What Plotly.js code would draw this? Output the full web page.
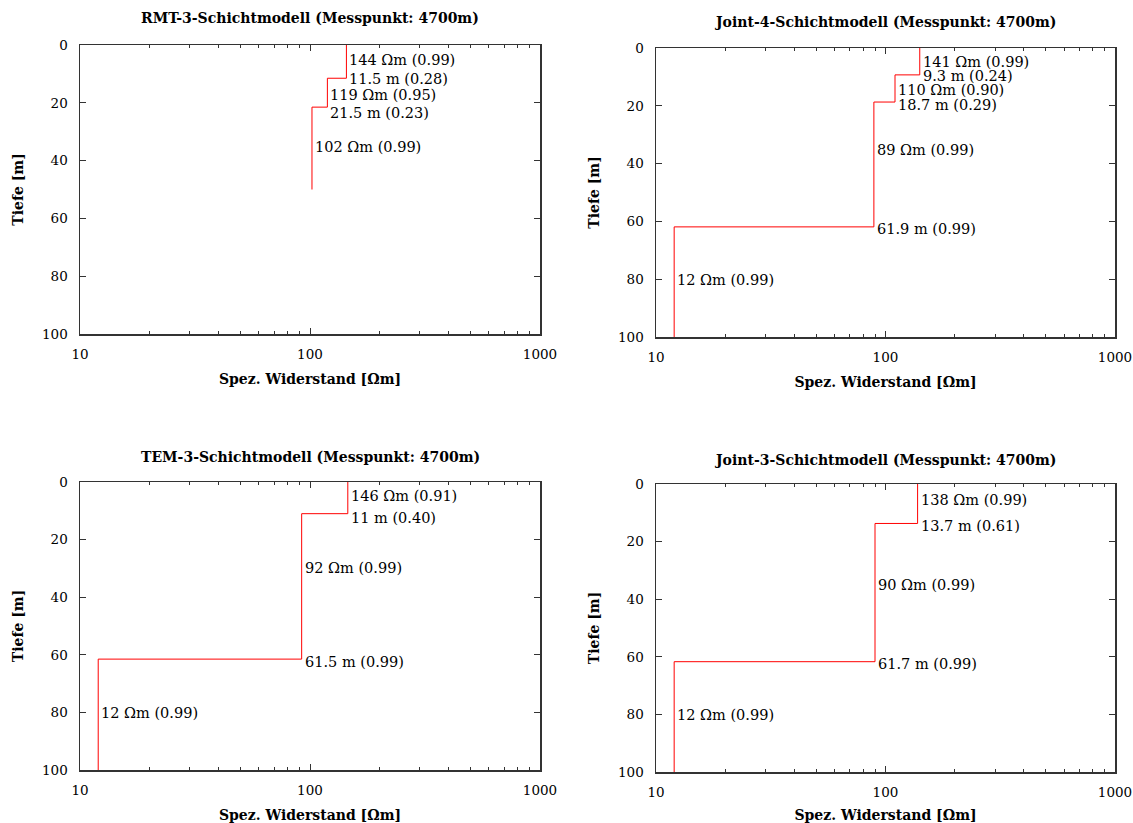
<!DOCTYPE html>
<html>
<head>
<meta charset="utf-8">
<script src="https://cdn.plot.ly/plotly-3.0.1.min.js"></script>
<style>html,body{margin:0;padding:0;background:#fff;}#chart{width:1133px;height:823px;}</style>
</head>
<body>
<div id="chart"></div>
<script>
// ---- data ----
const titles = [
  "RMT-3-Schichtmodell (Messpunkt: 4700m)",
  "Joint-4-Schichtmodell (Messpunkt: 4700m)",
  "TEM-3-Schichtmodell (Messpunkt: 4700m)",
  "Joint-3-Schichtmodell (Messpunkt: 4700m)"
];
// layer resistivities [Ωm]
const rmtRho = [144, 119, 102];
const joint4Rho = [141, 110, 89, 12];
const temRho = [146, 92, 12];
const joint3Rho = [138, 90, 12];
// layer resistivity confidence
const rmtRhoConf = ["0.99", "0.95", "0.99"];
const joint4RhoConf = ["0.99", "0.90", "0.99", "0.99"];
const temRhoConf = ["0.91", "0.99", "0.99"];
const joint3RhoConf = ["0.99", "0.99", "0.99"];
// layer boundary depths [m]
const rmtDepth = [11.5, 21.5];
const joint4Depth = [9.3, 18.7, 61.9];
const temDepth = [11, 61.5];
const joint3Depth = [13.7, 61.7];
// boundary confidence
const rmtDepthConf = ["0.28", "0.23"];
const joint4DepthConf = ["0.24", "0.29", "0.99"];
const temDepthConf = ["0.40", "0.99"];
const joint3DepthConf = ["0.61", "0.99"];
// depth where the profile ends [m]
const rmtBottom = 50;
const joint4Bottom = 100;
const temBottom = 100;
const joint3Bottom = 100;
// depths at which the layer labels are written [m]
const rmtRhoLabelDepth = [5.2, 17.3, 35.3];
const joint4RhoLabelDepth = [4.8, 14.7, 35.3, 80.3];
const temRhoLabelDepth = [4.9, 29.9, 80.2];
const joint3RhoLabelDepth = [5.6, 35.1, 80.2];
// depths at which the boundary labels are written [m]
const rmtDepthLabelDepth = [11.8, 23.5];
const joint4DepthLabelDepth = [9.8, 19.6, 62.6];
const temDepthLabelDepth = [12.5, 62.5];
const joint3DepthLabelDepth = [14.6, 62.5];
// axis ticks
const xTickVals = [10, 100, 1000];
const xTickText = ["10", "100", "1000"];
const xMinorVals = [20,30,40,50,60,70,80,90,200,300,400,500,600,700,800,900];
const yTickVals = [0, 20, 40, 60, 80, 100];

const panels = [
  {rho: rmtRho, rc: rmtRhoConf, d: rmtDepth, dc: rmtDepthConf, bottom: rmtBottom, rl: rmtRhoLabelDepth, dl: rmtDepthLabelDepth},
  {rho: joint4Rho, rc: joint4RhoConf, d: joint4Depth, dc: joint4DepthConf, bottom: joint4Bottom, rl: joint4RhoLabelDepth, dl: joint4DepthLabelDepth},
  {rho: temRho, rc: temRhoConf, d: temDepth, dc: temDepthConf, bottom: temBottom, rl: temRhoLabelDepth, dl: temDepthLabelDepth},
  {rho: joint3Rho, rc: joint3RhoConf, d: joint3Depth, dc: joint3DepthConf, bottom: joint3Bottom, rl: joint3RhoLabelDepth, dl: joint3DepthLabelDepth}
];

// ---- layout geometry (px) ----
const W = 1133, H = 823;
const boxes = [
  {l: 80, r: 540, t: 45, b: 334},
  {l: 656, r: 1115, t: 48, b: 337},
  {l: 80, r: 540, t: 482, b: 770},
  {l: 656, r: 1115, t: 484, b: 772}
];
const titleY = [18, 22, 457, 460];

const FONT = "DejaVu Serif, Liberation Serif, serif";
const LINE = "#333";
const traces = [];
const annotations = [];
const layout = {
  width: W, height: H,
  margin: {l: 0, r: 0, t: 0, b: 0},
  paper_bgcolor: "#fff", plot_bgcolor: "#fff",
  showlegend: false,
  font: {family: FONT, size: 14, color: "#000"},
  annotations: annotations
};

panels.forEach((p, i) => {
  const sfx = i === 0 ? "" : String(i + 1);
  const xa = "x" + sfx, ya = "y" + sfx;
  // step profile
  const xs = [], ys = [];
  const tops = [0].concat(p.d);
  const bots = p.d.concat([p.bottom]);
  p.rho.forEach((r, k) => { xs.push(r, r); ys.push(tops[k], bots[k]); });
  traces.push({x: xs, y: ys, xaxis: xa, yaxis: ya, type: "scatter", mode: "lines",
    line: {color: "#ff0000", width: 1}, hoverinfo: "skip"});

  const bx = boxes[i];
  layout["xaxis" + sfx] = {
    type: "log", range: [1, 3], anchor: ya,
    domain: [bx.l / W, bx.r / W],
    tickmode: "array", tickvals: xTickVals, ticktext: xTickText,
    ticks: "inside", ticklen: 6, tickcolor: LINE, tickwidth: 1,
    minor: {tickmode: "array", tickvals: xMinorVals, ticks: "inside", ticklen: 3, tickcolor: LINE, showgrid: false},
    showline: true, linecolor: LINE, linewidth: 1.5, mirror: "allticks",
    showgrid: false, zeroline: false,
    ticklabelstandoff: 7,
    tickfont: {family: FONT, size: 13.5, color: "#000"},
    title: {text: "<b>Spez. Widerstand [Ωm]</b>", font: {family: FONT, size: 14, color: "#000"}, standoff: 13}
  };
  layout["yaxis" + sfx] = {
    range: [100, 0], anchor: xa,
    domain: [1 - bx.b / H, 1 - bx.t / H],
    tickmode: "array", tickvals: yTickVals,
    ticks: "inside", ticklen: 6, tickcolor: LINE, tickwidth: 1,
    showline: true, linecolor: LINE, linewidth: 1.5, mirror: "allticks",
    showgrid: false, zeroline: false,
    ticklabelstandoff: 8,
    tickfont: {family: FONT, size: 13.5, color: "#000"},
    title: {text: "<b>Tiefe [m]</b>", font: {family: FONT, size: 14, color: "#000"}, standoff: 15}
  };
  // subplot title
  annotations.push({
    xref: "paper", yref: "paper", x: ((bx.l + bx.r) / 2) / W, y: 1 - titleY[i] / H,
    xanchor: "center", yanchor: "middle", showarrow: false,
    text: "<b>" + titles[i] + "</b>", font: {family: FONT, size: 14, color: "#000"}
  });
  // layer labels
  p.rho.forEach((r, k) => {
    annotations.push({xref: xa, yref: ya, x: Math.log10(r), y: p.rl[k],
      xanchor: "left", yanchor: "middle", xshift: 2, showarrow: false, borderpad: 0,
      text: r + " Ωm (" + p.rc[k] + ")", font: {family: FONT, size: 14.5, color: "#000"}});
  });
  // boundary labels
  p.d.forEach((d, k) => {
    annotations.push({xref: xa, yref: ya, x: Math.log10(p.rho[k]), y: p.dl[k],
      xanchor: "left", yanchor: "middle", xshift: 2, showarrow: false, borderpad: 0,
      text: d + " m (" + p.dc[k] + ")", font: {family: FONT, size: 14.5, color: "#000"}});
  });
});

Plotly.newPlot("chart", traces, layout, {staticPlot: true});
</script>
</body>
</html>
